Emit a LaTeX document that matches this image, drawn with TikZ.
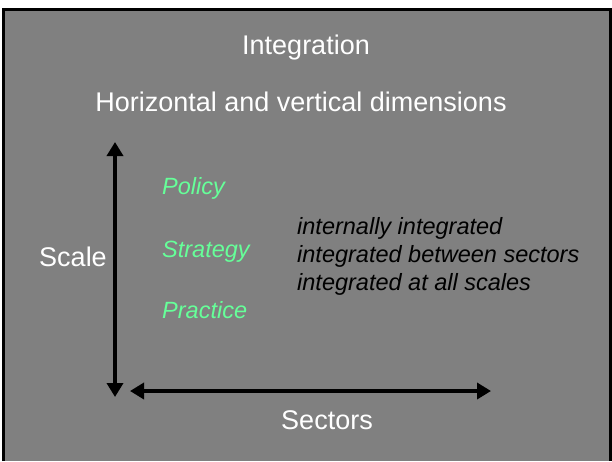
\documentclass[tikz,border=0pt]{standalone}
\usepackage{fontspec}
\setmainfont{Liberation Sans}
\usetikzlibrary{arrows.meta}
\definecolor{slidegray}{HTML}{808080}
\definecolor{levelgreen}{HTML}{66FF99}
\tikzset{
    bigtext/.style={text=white, font=\fontsize{27}{31}\selectfont, inner sep=0pt},
    leveltext/.style={text=levelgreen, font=\fontsize{23.5}{27}\selectfont\itshape, anchor=west, inner sep=0pt},
    kindtext/.style={text=black, font=\fontsize{23.5}{27}\selectfont\itshape, anchor=west, inner sep=0pt},
    axis/.style={line width=4pt, {Triangle[length=14pt,width=16pt]}-{Triangle[length=14pt,width=16pt]}}
}
\begin{document}
\begin{tikzpicture}[x=1pt, y=-1pt]
    \useasboundingbox (0,0) rectangle (612,461);
    \fill[slidegray] (3.5,9.5) rectangle (610,461);
    \draw[line width=3pt] (3.5,461) -- (3.5,9.5) -- (610,9.5) -- (610,461);

    \node[bigtext] (title) at (306,48) {Integration};
    \node[bigtext] (subtitle) at (301,102) {Horizontal and vertical dimensions};

    \coordinate (scaletop) at (115,142);
    \coordinate (scalebot) at (115,397);
    \coordinate (sectleft) at (130,391);
    \coordinate (sectright) at (491,391);
    \draw[axis] (scalebot) -- (scaletop);
    \draw[axis] (sectleft) -- (sectright);

    \node[bigtext] (scale) at (73,257) {Scale};
    \node[bigtext] (sectors) at (327,420) {Sectors};

    \node[leveltext] (policy) at (162,188) {Policy};
    \node[leveltext] (strategy) at (162,252) {Strategy};
    \node[leveltext] (practice) at (162,310) {Practice};

    \node[kindtext] (internal) at (297,228) {internally integrated};
    \node[kindtext] (between) at (297,256) {integrated between sectors};
    \node[kindtext] (allscales) at (297,284) {integrated at all scales};
\end{tikzpicture}
\end{document}
